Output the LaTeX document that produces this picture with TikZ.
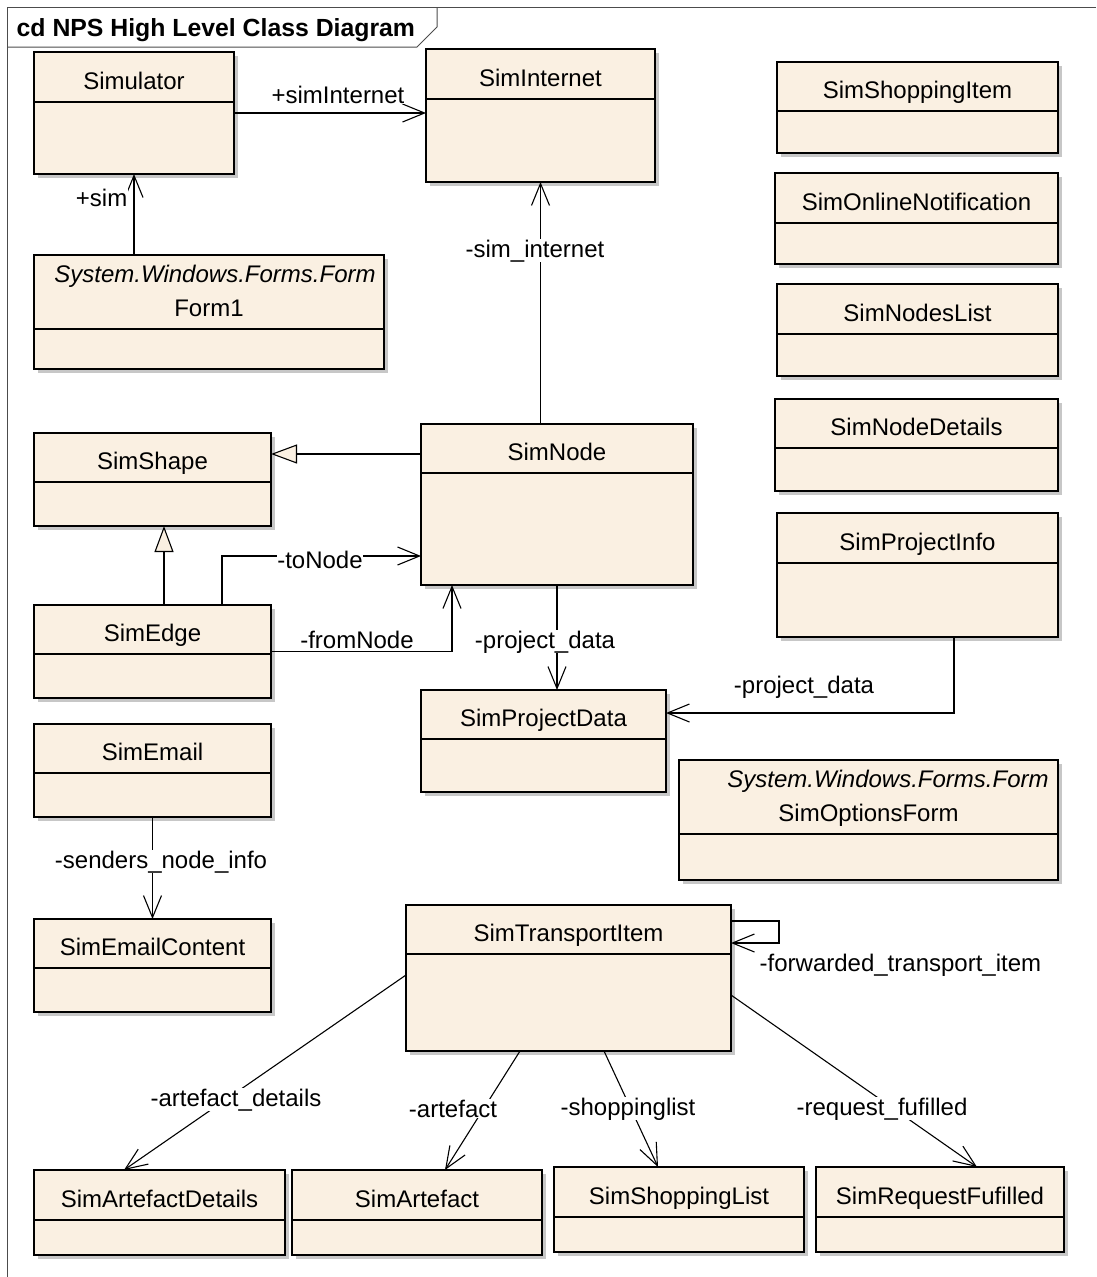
\documentclass[tikz,border=0pt]{standalone}
\usepackage{fontspec}
\setmainfont{Liberation Sans}
\usetikzlibrary{arrows.meta,shadows}
\definecolor{creme}{RGB}{250,240,226}
\begin{document}
\begin{tikzpicture}[x=1pt,y=-1pt,
    classe/.style={draw, fill=creme, line width=1.4pt, anchor=north west, inner sep=0pt, outer sep=0pt,
      general shadow={fill=black!22, shadow xshift=4pt, shadow yshift=-4pt}},
    texte/.style={font=\fontsize{24}{29}\selectfont, inner sep=0.5pt},
    etiq/.style={texte, fill=white, anchor=base},
    asso/.style={line width=1.1pt, -{Straight Barb[length=22pt,width=18pt]}},
    gen/.style={line width=1.1pt, -{Triangle[fill=creme,length=26pt,width=19pt]}}]
    \useasboundingbox (0,0) rectangle (1096,1277);
    % cadre
    \draw[black!70, line width=1pt] (1096,7) -- (7,7) -- (7,1277);
    \draw[black!70, line width=1pt] (7,47) -- (417,47) -- (437,27) -- (437,7);
    \node[texte, font=\fontsize{24.8}{29}\selectfont\bfseries, anchor=base west] (titre) at (16,36) {cd NPS High Level Class Diagram};
    % classes
    \foreach \nom/\xa/\ya/\xb/\yb/\ys/\txt in {
        simulator/34/52/234/174/102/Simulator,
        siminternet/426/49/655/182/99/SimInternet,
        form1/34/255/384/369/329/Form1,
        shopitem/777/62/1058/153/111/SimShoppingItem,
        notification/775/173/1058/264/223/SimOnlineNotification,
        nodeslist/777/284/1058/376/334/SimNodesList,
        nodedetails/775/399/1058/491/448/SimNodeDetails,
        projectinfo/777/513/1058/637/563/SimProjectInfo,
        simshape/34/433/271/526/482/SimShape,
        simnode/421/424/693/585/473/SimNode,
        simedge/34/605/271/698/654/SimEdge,
        projectdata/421/690/666/792/739/SimProjectData,
        simemail/34/724/271/817/773/SimEmail,
        emailcontent/34/919/271/1012/968/SimEmailContent,
        optionsform/679/760/1058/880/834/SimOptionsForm,
        transport/406/905/731/1051/954/SimTransportItem,
        artdetails/34/1170/285/1255/1220/SimArtefactDetails,
        artefact/292/1170/542/1255/1220/SimArtefact,
        shoplist/554/1167/804/1252/1217/SimShoppingList,
        request/816/1167/1064/1252/1217/SimRequestFufilled} {
      \pgfmathsetmacro\lw{\xb-\xa}
      \pgfmathsetmacro\lh{\yb-\ya}
      \node[classe, minimum width=\lw pt, minimum height=\lh pt] (\nom) at (\xa,\ya) {};
      \draw[line width=1.4pt] (\xa,\ys) -- (\xb,\ys);
      \node[texte, anchor=base] (\nom-n) at ({(\xa+\xb)/2},{\ys-13}) {\txt};
    }
    \node[texte, font=\fontsize{24}{29}\selectfont\itshape, anchor=base] (form1-st) at (215,282) {System.Windows.Forms.Form};
    \node[texte, font=\fontsize{24}{29}\selectfont\itshape, anchor=base] (optionsform-st) at (888,787) {System.Windows.Forms.Form};
    % associations
    \draw[asso] (simulator.east) -- (simulator.east -| siminternet.west);
    \draw[asso] (form1.north -| simulator.south) -- (simulator.south);
    \draw[asso] (simnode.north -| siminternet.south) -- (siminternet.south);
    % héritage
    \coordinate (g1) at ([yshift=-30pt]simnode.north west);
    \draw[gen] (g1) -- (g1 -| simshape.east);
    \coordinate (g2) at ([xshift=130pt]simedge.north west);
    \draw[gen] (g2) -- (g2 |- simshape.south);
    % toNode, fromNode
    \coordinate (t1) at ([xshift=188pt]simedge.north west);
    \coordinate (t2) at ([yshift=-132pt]simnode.north west);
    \draw[asso] (t1) |- (t2);
    \coordinate (f1) at ([xshift=31pt]simnode.south west);
    \draw[asso] (simedge.east) -| (f1);
    % project_data
    \draw[asso] (simnode.south) -- (simnode.south |- projectdata.north);
    \coordinate (p1) at ([xshift=-104pt]projectinfo.south east);
    \coordinate (p2) at ([yshift=-23pt]projectdata.north east);
    \draw[asso] (p1) |- (p2);
    \draw[asso] (simemail.south) -- (emailcontent.north);
    % transport
    \draw[asso] ([yshift=-16pt]transport.north east) -- ++(48,0) -- ++(0,22) -- ([yshift=-38pt]transport.north east);
    \draw[asso] ([yshift=-70pt]transport.north west) -- ([xshift=90pt]artdetails.north west);
    \draw[asso] ([xshift=114pt]transport.south west) -- ([xshift=153pt]artefact.north west);
    \draw[asso] ([xshift=198pt]transport.south west) -- ([xshift=104pt]shoplist.north west);
    \draw[asso] ([yshift=-90pt]transport.north east) -- ([xshift=161pt]request.north west);
    % étiquettes
    \node[etiq] (l-siminternet) at (338,103) {+simInternet};
    \node[etiq, anchor=base east] (l-sim) at (128,206) {+sim};
    \node[etiq] (l-siminet) at (535,257) {-sim\_internet};
    \node[etiq] (l-tonode) at (320,568) {-toNode};
    \node[etiq] (l-fromnode) at (357,648) {-fromNode};
    \node[etiq] (l-data1) at (545,648) {-project\_data};
    \node[etiq] (l-data2) at (804,693) {-project\_data};
    \node[etiq] (l-senders) at (161,868) {-senders\_node\_info};
    \node[etiq, anchor=base west] (l-forward) at (759,971) {-forwarded\_transport\_item};
    \node[etiq] (l-artdetails) at (236,1106) {-artefact\_details};
    \node[etiq] (l-artefact) at (453,1117) {-artefact};
    \node[etiq] (l-shoplist) at (628,1115) {-shoppinglist};
    \node[etiq] (l-request) at (882,1115) {-request\_fufilled};
\end{tikzpicture}
\end{document}
